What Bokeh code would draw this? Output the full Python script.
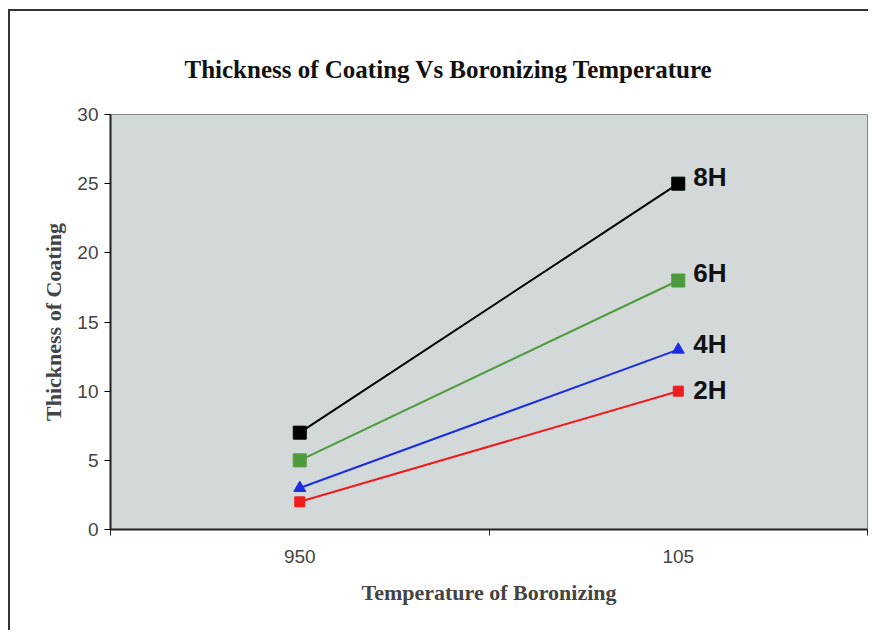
from bokeh.plotting import figure
from bokeh.models import FixedTicker, Range1d, Title, ColumnDataSource
from bokeh.core.properties import value
from bokeh.embed import file_html
from bokeh.resources import INLINE

# ---- data ----
chart_title = "Thickness of Coating Vs Boronizing Temperature"
temperatures = ["950", "105"]
thickness_2h = [2, 10]
thickness_4h = [3, 13]
thickness_6h = [5, 18]
thickness_8h = [7, 25]
series_names = ["2H", "4H", "6H", "8H"]
y_ticks = [0, 5, 10, 15, 20, 25, 30]

x_pos = [i + 0.5 for i in range(len(temperatures))]

p = figure(width=860, height=621, output_backend="svg", toolbar_location=None,
           x_range=Range1d(0, len(temperatures)), y_range=Range1d(0, 30),
           min_border_left=100, min_border_right=3, min_border_top=103,
           min_border_bottom=103)
p.styles = {"margin-left": "8px", "margin-top": "9px",
            "border-left": "2px solid #333", "border-top": "2px solid #333"}

p.background_fill_color = "#d3d9d9"
p.border_fill_color = "white"
p.outline_line_color = "#888888"
p.outline_line_width = 1
p.xgrid.visible = False
p.ygrid.visible = False

p.title = Title(text=chart_title, text_font="Liberation Serif",
                text_font_size="25px", text_font_style="bold",
                align="left", vertical_align="top", text_color="#111")
p.title.offset = 74
p.title.standoff = 60

# y axis
p.yaxis.ticker = FixedTicker(ticks=y_ticks)
p.yaxis.axis_label = "Thickness of Coating"
p.yaxis.axis_label_text_font = "Liberation Serif"
p.yaxis.axis_label_text_font_size = "22px"
p.yaxis.axis_label_text_font_style = "bold"
p.yaxis.axis_label_standoff = 8
p.yaxis.major_label_text_font = "Liberation Sans"
p.yaxis.major_label_text_font_size = "19px"
p.yaxis.major_label_text_color = "#444"
p.yaxis.major_tick_out = 6
p.yaxis.major_tick_in = 0
p.yaxis.minor_tick_out = 0
p.yaxis.minor_tick_in = 0
p.yaxis.major_label_standoff = 6
p.yaxis.axis_line_color = "#222"
p.yaxis.axis_line_width = 2

# x axis
p.xaxis.ticker = FixedTicker(ticks=x_pos, minor_ticks=list(range(len(temperatures) + 1)))
p.xaxis.major_label_overrides = {x: t for x, t in zip(x_pos, temperatures)}
p.xaxis.axis_label = "Temperature of Boronizing"
p.xaxis.axis_label_text_font = "Liberation Serif"
p.xaxis.axis_label_text_font_size = "22px"
p.xaxis.axis_label_text_font_style = "bold"
p.xaxis.axis_label_standoff = 14
p.xaxis.major_label_text_font = "Liberation Sans"
p.xaxis.major_label_text_font_size = "19px"
p.xaxis.major_label_text_color = "#444"
p.xaxis.major_tick_out = 0
p.xaxis.major_tick_in = 0
p.xaxis.minor_tick_out = 6
p.xaxis.minor_tick_in = 0
p.xaxis.minor_tick_line_color = "#222"
p.xaxis.major_label_standoff = 14
p.xaxis.axis_line_color = "#222"
p.xaxis.axis_line_width = 2

styles = [
    (thickness_2h, "#ee1c1c", "square", 10),
    (thickness_4h, "#1a2ee0", "triangle", 12),
    (thickness_6h, "#4f9a3c", "square", 13),
    (thickness_8h, "#000000", "square", 13),
]
for vals, color, marker, size in styles:
    p.line(x_pos, vals, line_color=color, line_width=2)
    p.scatter(x_pos, vals, marker=marker, size=size, fill_color=color, line_color=color)

end_vals = [s[-1] for s in (thickness_2h, thickness_4h, thickness_6h, thickness_8h)]
src = ColumnDataSource(dict(x=[x_pos[-1]] * 4, y=end_vals, t=series_names,
                            dy=[-1, -6, -8, -7]))
p.text(x="x", y="y", text="t", source=src, x_offset=15, y_offset="dy",
       text_font=value("Liberation Sans"), text_font_style="bold",
       text_font_size="26px", text_baseline="middle", text_align="left",
       text_color="#111")

open("out.html", "w").write(file_html(p, INLINE))
